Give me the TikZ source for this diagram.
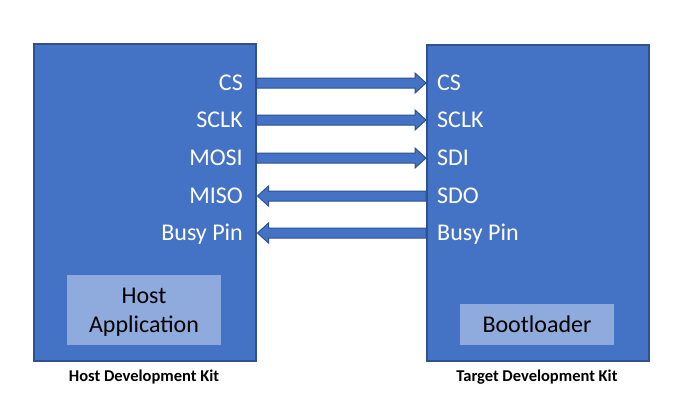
\documentclass[tikz,border=0pt]{standalone}
\usepackage{fontspec}
\setmainfont{Carlito}
\usetikzlibrary{calc}
\definecolor{kitblue}{HTML}{4472C4}
\definecolor{kitedge}{HTML}{2F528F}
\definecolor{innerblue}{HTML}{8FAADC}
\newcommand\blkarrow[3]{%
  \path[arr] let \p1=(#1), \p2=(#2) in
    (\x1,\y1+5pt) -- (\x2 #3 11pt,\y1+5pt) -- (\x2 #3 11pt,\y1+10pt) --
    (\x2,\y1) -- (\x2 #3 11pt,\y1-10pt) -- (\x2 #3 11pt,\y1-5pt) --
    (\x1,\y1-5pt) -- cycle;}
\begin{document}
\begin{tikzpicture}[x=1pt,y=-1pt,
  kit/.style={draw=kitedge,fill=kitblue,line width=1.5pt,anchor=north west,inner sep=0pt},
  inner/.style={fill=innerblue,inner sep=0pt,align=center,text=black,
     font=\fontsize{24}{30}\selectfont},
  sig/.style={text=white,inner sep=0pt,font=\fontsize{24}{28}\selectfont},
  caption/.style={inner sep=0pt,font=\fontsize{16.5}{20}\selectfont\bfseries,text=black},
  arr/.style={fill=kitblue,draw=kitedge,line width=1pt,line join=miter}]
\useasboundingbox[fill=white] (0,0) rectangle (686,410);
\node[kit,minimum width=222pt,minimum height=317pt] (host) at (33,43) {};
\node[kit,minimum width=222pt,minimum height=316pt] (target) at (426,44) {};
\node[inner,minimum width=154pt,minimum height=70pt] (app) at (144,310) {};
\node[inner,fill=none] (applabel) at (144,312) {Host\\[-1pt]Application};
\node[inner,minimum width=154pt,minimum height=41pt] (boot) at (537,324.5) {Bootloader};
\node[caption] (hostcap) at (144,377) {Host Development Kit};
\node[caption] (targetcap) at (537,377) {Target Development Kit};
% rows
\coordinate (r1) at (0,83);
\coordinate (r2) at (0,120);
\coordinate (r3) at (0,158);
\coordinate (r4) at (0,196);
\coordinate (r5) at (0,233);
% labels
\node[sig,anchor=base east] (lcs) at (243,90.5) {CS};
\node[sig,anchor=base east] (lsclk) at (243,127.5) {SCLK};
\node[sig,anchor=base east] (lmosi) at (243,165.5) {MOSI};
\node[sig,anchor=base east] (lmiso) at (243,203.5) {MISO};
\node[sig,anchor=base east] (lbusy) at (243,240.5) {Busy Pin};
\node[sig,anchor=base west] (rcs) at (437,90.5) {CS};
\node[sig,anchor=base west] (rsclk) at (437,127.5) {SCLK};
\node[sig,anchor=base west] (rsdi) at (437,165.5) {SDI};
\node[sig,anchor=base west] (rsdo) at (437,203.5) {SDO};
\node[sig,anchor=base west] (rbusy) at (437,240.5) {Busy Pin};
% arrow end points
\coordinate (h1) at (host.east |- r1);
\coordinate (h2) at (host.east |- r2);
\coordinate (h3) at (host.east |- r3);
\coordinate (h4) at ([xshift=1pt]host.east |- r4);
\coordinate (h5) at ([xshift=1pt]host.east |- r5);
\coordinate (t1) at (target.west |- r1);
\coordinate (t2) at (target.west |- r2);
\coordinate (t3) at (target.west |- r3);
\coordinate (t4) at (target.west |- r4);
\coordinate (t5) at (target.west |- r5);
\blkarrow{h1}{t1}{-}
\blkarrow{h2}{t2}{-}
\blkarrow{h3}{t3}{-}
\blkarrow{t4}{h4}{+}
\blkarrow{t5}{h5}{+}
\end{tikzpicture}
\end{document}
